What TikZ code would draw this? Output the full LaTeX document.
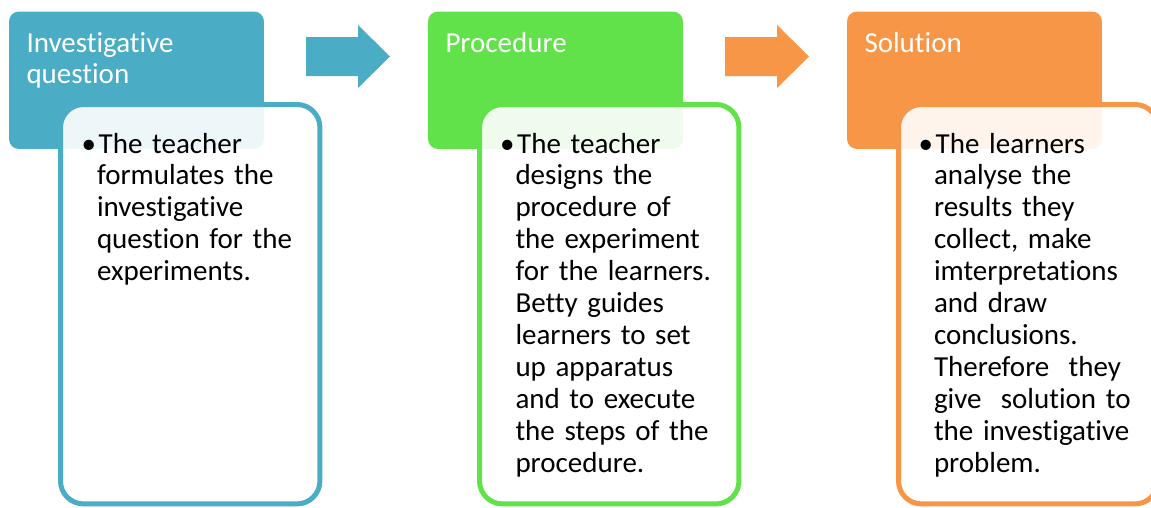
\documentclass[tikz,border=0pt]{standalone}
\usepackage{fontspec}
\setmainfont{Carlito}[Ligatures=NoCommon]
\usetikzlibrary{positioning,calc}

\definecolor{stepblue}{RGB}{75,172,198}
\definecolor{stepgreen}{RGB}{98,226,74}
\definecolor{steporange}{RGB}{247,150,70}

\begin{document}
\begin{tikzpicture}[x=0.02cm,y=-0.02cm,
        every node/.style = {inner sep=0pt,outer sep=0pt},
        headbox/.style = {rectangle,rounded corners=0.2cm,anchor=north west,
            minimum width=5.1cm,minimum height=2.75cm},
        bodybox/.style = {rectangle,rounded corners=0.46cm,anchor=north west,
            line width=0.1cm,fill=white,fill opacity=0.9,
            minimum width=5.19cm,minimum height=7.99cm},
        headtext/.style = {anchor=base west,text width=4.8cm,align=left,text=white,
            font=\fontsize{16.5}{18.2}\selectfont},
        bodytext/.style = {anchor=base west,text width=4.6cm,align=left,text=black,
            font=\fontsize{16.5}{18.2}\selectfont},
        flowarrow/.style = {line width=0pt},
        ]
        \useasboundingbox (0,0) rectangle (1151,507);
        \clip (0,0) rectangle (1151,507);

        % header boxes
        \node[headbox,fill=stepblue] (head-1) at (9,11.5) {};
        \node[headbox,fill=stepgreen] (head-2) at (428,11.5) {};
        \node[headbox,fill=steporange] (head-3) at (847,11.5) {};

        % body boxes, lying over the headers
        \node[bodybox,draw=stepblue] (body-1) at (60.5,104.5) {};
        \node[bodybox,draw=stepgreen] (body-2) at (479.5,104.5) {};
        \node[bodybox,draw=steporange] (body-3) at (898.5,104.5) {};

        % header texts
        \node[headtext] (head-1-text) at (26.5,52) {Investigative\\question};
        \node[headtext] (head-2-text) at (445.5,52) {Procedure};
        \node[headtext] (head-3-text) at (864.5,52) {Solution};

        % body texts
        \node[bodytext] (body-1-text) at (97,153) {\hspace*{1pt}\llap{•\hspace{1.5pt}}The teacher\\
            formulates the\\investigative\\question for the\\experiments.};
        \node[bodytext] (body-2-text) at (515.5,153) {\hspace*{1pt}\llap{•\hspace{1.5pt}}The teacher\\
            designs the\\procedure of\\the experiment\\for the learners.\\Betty guides\\
            learners to set\\up apparatus\\and to execute\\the steps of the\\procedure.};
        \node[bodytext] (body-3-text) at (934,153) {\hspace*{1pt}\llap{•\hspace{1.5pt}}The learners\\
            analyse the\\results they\\collect, make\\imterpretations\\and draw\\
            conclusions.\\Therefore~ they\\give~ solution to\\the investigative\\problem.};

        % arrows between the headers
        \fill[stepblue,flowarrow] (306,37) -- (358,37) -- (358,25) -- (390,56.5)
            -- (358,88) -- (358,76) -- (306,76) -- cycle;
        \fill[steporange,flowarrow] (725,37) -- (777,37) -- (777,25) -- (809,56.5)
            -- (777,88) -- (777,76) -- (725,76) -- cycle;
\end{tikzpicture}
\end{document}
